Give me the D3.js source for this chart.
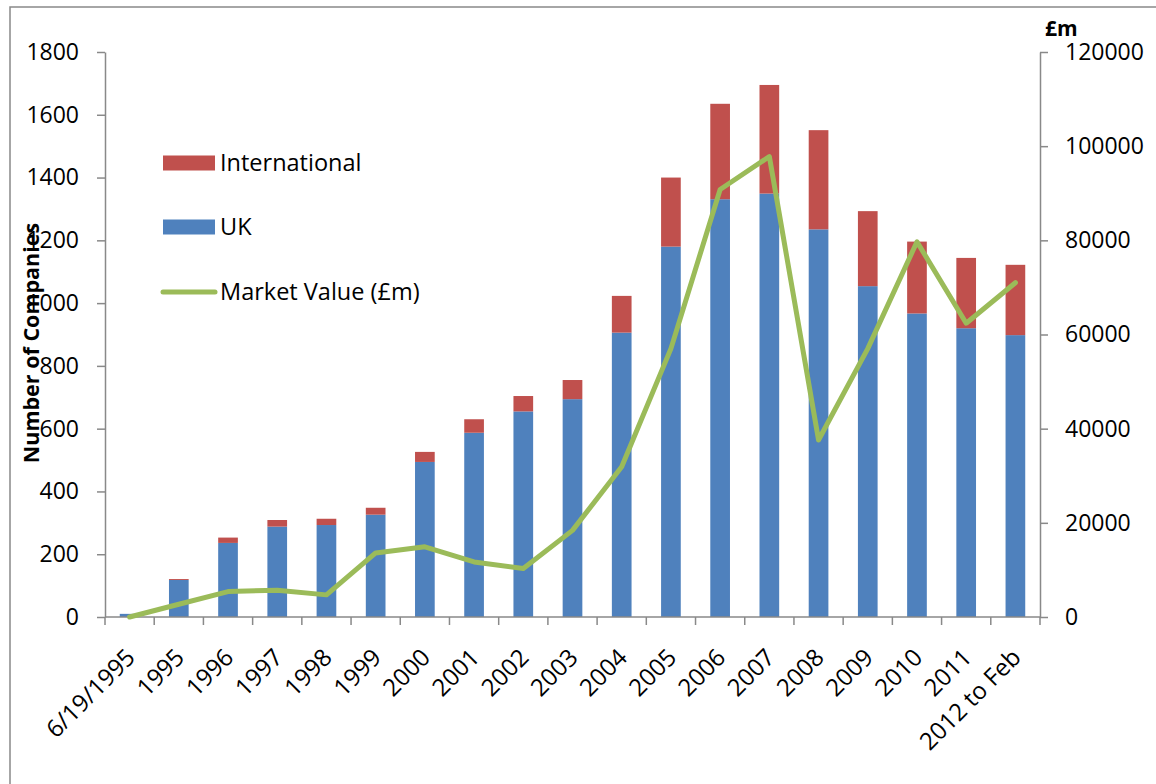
<!DOCTYPE html>
<html>
<head>
<meta charset="utf-8">
<script src="https://cdn.jsdelivr.net/npm/d3@7"></script>
<style>
  html, body { margin: 0; padding: 0; background: #fff; }
  svg { display: block; }
  text { font-family: "Open Sans", "Liberation Sans", sans-serif; fill: #000; }
</style>
</head>
<body>
<svg id="chart" width="1156" height="784"></svg>
<script>
const categories = ["6/19/1995","1995","1996","1997","1998","1999","2000","2001","2002","2003","2004","2005","2006","2007","2008","2009","2010","2011","2012 to Feb"];
const ukCompanies = [10,118,236,288,293,326,494,587,655,694,906,1180,1331,1349,1235,1054,967,920,898];
const intlCompanies = [0,3,17,21,20,22,32,43,49,61,117,220,304,346,316,239,229,224,224];
const marketValue = [0,2700,5400,5700,4700,13600,14900,11700,10300,18400,31900,57000,90800,97800,37600,57000,79700,62400,71000];
const leftTicks = [0,200,400,600,800,1000,1200,1400,1600,1800];
const rightTicks = [0,20000,40000,60000,80000,100000,120000];
const legendItems = ["International","UK","Market Value (£m)"];

const colors = { uk: "#4F81BD", intl: "#C0504D", line: "#9BBB59", axis: "#898989" };

const svg = d3.select("#chart");
const plot = { left: 105, right: 1040, top: 52, bottom: 617 };

// outer chart border
svg.append("rect")
  .attr("x", 10).attr("y", 7).attr("width", 1400).attr("height", 1000)
  .attr("fill", "none").attr("stroke", colors.axis).attr("stroke-width", 1.5);

const x = d3.scaleBand().domain(categories)
  .range([plot.left, plot.right]).paddingInner(0.6).paddingOuter(0.3);
const yL = d3.scaleLinear().domain([0, 1800]).range([plot.bottom, plot.top]);
const yR = d3.scaleLinear().domain([0, 120000]).range([plot.bottom, plot.top]);
const step = x.step();
const cx = c => x(c) + x.bandwidth() / 2;

// bars
const rows = categories.map((c, i) => ({ c, uk: ukCompanies[i], intl: intlCompanies[i] }));
const g = svg.append("g");
g.selectAll("rect.uk").data(rows).enter().append("rect")
  .attr("class", "uk")
  .attr("x", d => x(d.c)).attr("width", x.bandwidth())
  .attr("y", d => yL(d.uk)).attr("height", d => yL(0) - yL(d.uk))
  .attr("fill", colors.uk);
g.selectAll("rect.intl").data(rows.filter(d => d.intl > 0)).enter().append("rect")
  .attr("class", "intl")
  .attr("x", d => x(d.c)).attr("width", x.bandwidth())
  .attr("y", d => yL(d.uk + d.intl)).attr("height", d => yL(d.uk) - yL(d.uk + d.intl))
  .attr("fill", colors.intl);

// axes
const axL = svg.append("g").attr("transform", `translate(${plot.left},0)`)
  .call(d3.axisLeft(yL).tickValues(leftTicks).tickSize(8).tickSizeOuter(0).tickPadding(18).tickFormat(d3.format("d")));
const axR = svg.append("g").attr("transform", `translate(${plot.right},0)`)
  .call(d3.axisRight(yR).tickValues(rightTicks).tickSize(8).tickSizeOuter(0).tickPadding(17).tickFormat(d3.format("d")));
[axL, axR].forEach(a => {
  a.selectAll("path.domain").attr("stroke", colors.axis).attr("stroke-width", 1.5);
  a.selectAll(".tick line").attr("stroke", colors.axis).attr("stroke-width", 1.5);
  a.selectAll(".tick text").style("font-family", '"Open Sans", sans-serif').style("font-size", "23px").attr("fill", "#000");
});

// bottom axis
const bottom = svg.append("g");
bottom.append("line")
  .attr("x1", plot.left).attr("x2", plot.right)
  .attr("y1", plot.bottom).attr("y2", plot.bottom)
  .attr("stroke", colors.axis).attr("stroke-width", 1.5);
const boundaries = categories.map(c => x(c) - step * x.paddingOuter()).concat([plot.right]);
bottom.selectAll("line.tick").data(boundaries).enter().append("line")
  .attr("class", "tick")
  .attr("x1", d => d).attr("x2", d => d)
  .attr("y1", plot.bottom).attr("y2", plot.bottom + 8)
  .attr("stroke", colors.axis).attr("stroke-width", 1.5);
bottom.selectAll("text").data(categories).enter().append("text")
  .attr("transform", c => `translate(${cx(c) + 1},${plot.bottom + 36}) rotate(-45)`)
  .attr("text-anchor", "end").attr("dy", "0.35em")
  .style("font-size", "24px")
  .text(c => c);

// line
const line = d3.line().x((d, i) => cx(categories[i])).y(d => yR(d));
svg.append("path").datum(marketValue)
  .attr("d", line).attr("fill", "none")
  .attr("stroke", colors.line).attr("stroke-width", 5)
  .attr("stroke-linejoin", "round").attr("stroke-linecap", "round");

// axis titles
svg.append("text")
  .attr("transform", `translate(39,343) rotate(-90)`)
  .attr("text-anchor", "middle")
  .style("font-size", "21.5px").style("font-weight", "bold")
  .text("Number of Companies");
svg.append("text")
  .attr("x", 1045).attr("y", 36)
  .style("font-size", "21px").style("font-weight", "bold")
  .text("£m");

// legend
const leg = svg.append("g");
const legY = [163, 227, 292];
leg.append("rect").attr("x", 163).attr("y", legY[0] - 7.5).attr("width", 52).attr("height", 15).attr("fill", colors.intl);
leg.append("rect").attr("x", 163).attr("y", legY[1] - 7.5).attr("width", 52).attr("height", 15).attr("fill", colors.uk);
leg.append("line").attr("x1", 163).attr("x2", 215).attr("y1", legY[2]).attr("y2", legY[2])
  .attr("stroke", colors.line).attr("stroke-width", 5).attr("stroke-linecap", "round");
leg.selectAll("text").data(legendItems).enter().append("text")
  .attr("x", 220).attr("y", (d, i) => legY[i]).attr("dy", "0.35em")
  .style("font-size", "23.5px")
  .text(d => d);
</script>
</body>
</html>
